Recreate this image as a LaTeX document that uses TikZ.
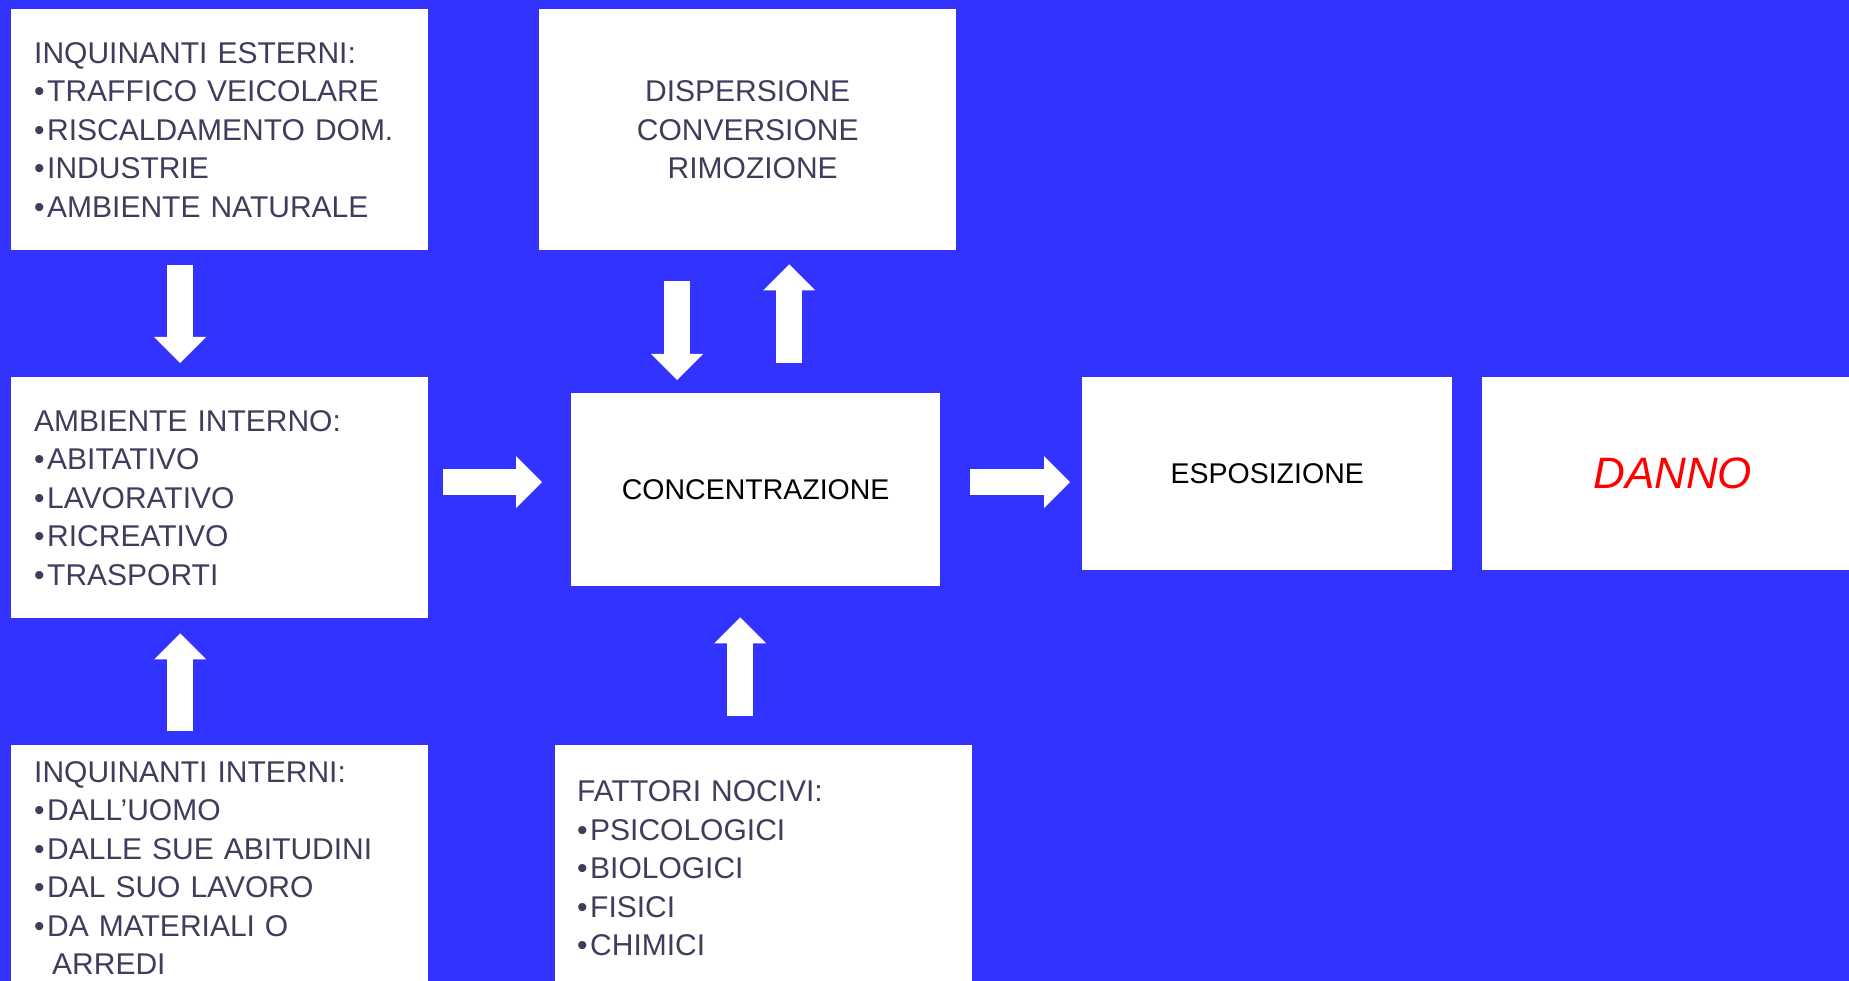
\documentclass[tikz,border=0pt]{standalone}
\usepackage{fontspec}
\setmainfont{Liberation Sans}
\usepackage{tikz}
\usetikzlibrary{arrows.meta}
\definecolor{bgblue}{RGB}{51,51,255}
\definecolor{txtgray}{RGB}{62,62,92}
\newcommand{\blt}{•\hspace{2.5pt}}
\tikzset{
	box/.style={fill=white, inner sep=0pt, anchor=north west},
	listbox/.style={box, inner xsep=23pt, text width=371pt, align=left, text=txtgray, font=\fontsize{30}{38.5}\selectfont},
	wordbox/.style={box, font=\fontsize{28.5}{34}\selectfont},
	bigarrow/.style={draw=white, line width=26pt, -{Triangle[width=52pt,length=26pt,line width=0pt]}}
}
\begin{document}
\begin{tikzpicture}[x=1pt, y=-1pt]
		\path[use as bounding box, fill=bgblue] (0,0) rectangle (1849,981);
		
		\node[listbox, minimum height=241pt] (inqest) at (11,9) {INQUINANTI ESTERNI:\\\blt TRAFFICO VEICOLARE\\\blt RISCALDAMENTO DOM.\\\blt INDUSTRIE\\\blt AMBIENTE NATURALE};
		\node[box, text width=417pt, align=center, minimum height=241pt, text=txtgray, font=\fontsize{30}{38.5}\selectfont] (dispers) at (539,9) {DISPERSIONE\\CONVERSIONE\\\hspace*{10pt}RIMOZIONE};
		\node[listbox, minimum height=241pt] (ambint) at (11,377) {AMBIENTE INTERNO:\\\blt ABITATIVO\\\blt LAVORATIVO\\\blt RICREATIVO\\\blt TRASPORTI};
		\node[listbox, minimum height=246pt] (inqint) at (11,745) {INQUINANTI INTERNI:\\\blt DALL’UOMO\\\blt DALLE SUE ABITUDINI\\\blt DAL SUO LAVORO\\\blt DA MATERIALI O\\\hphantom{\blt}\,ARREDI};
		\node[listbox, inner xsep=22pt, text width=373pt, minimum height=246pt] (fattori) at (555,745) {FATTORI NOCIVI:\\\blt PSICOLOGICI\\\blt BIOLOGICI\\\blt FISICI\\\blt CHIMICI};
		\node[wordbox, minimum width=369pt, minimum height=193pt] (conc) at (571,393) {CONCENTRAZIONE};
		\node[wordbox, minimum width=370pt, minimum height=193pt] (espos) at (1082,377) {ESPOSIZIONE};
		\node[wordbox, minimum width=367pt, minimum height=193pt, text=red, font=\fontsize{44}{50}\selectfont\itshape] (danno) at (1482,377) {\hspace*{14pt}DANNO};
		
		\draw [bigarrow, shorten <=15pt, shorten >=14pt] ([xshift=-39.5pt]inqest.south) -- ([xshift=-39.5pt]ambint.north);
		\draw [bigarrow, shorten <=14pt, shorten >=15pt] ([xshift=-39.5pt]inqint.north) -- ([xshift=-39.5pt]ambint.south);
		\draw [bigarrow, shorten <=15pt, shorten >=29pt] ([yshift=15.5pt]ambint.east) -- ([yshift=7.5pt]conc.west);
		\draw [bigarrow, shorten <=30pt, shorten >=12pt] ([yshift=7.5pt]conc.east) -- ([yshift=-8.5pt]espos.west);
		\draw [bigarrow, shorten <=31pt, shorten >=13pt] ([xshift=-70.5pt]dispers.south) -- ([xshift=-78.5pt]conc.north);
		\draw [bigarrow, shorten <=30pt, shorten >=14pt] ([xshift=33.5pt]conc.north) -- ([xshift=41.5pt]dispers.south);
		\draw [bigarrow, shorten <=29pt, shorten >=31pt] ([xshift=-23.5pt]fattori.north) -- ([xshift=-15.5pt]conc.south);
	\end{tikzpicture}
\end{document}
